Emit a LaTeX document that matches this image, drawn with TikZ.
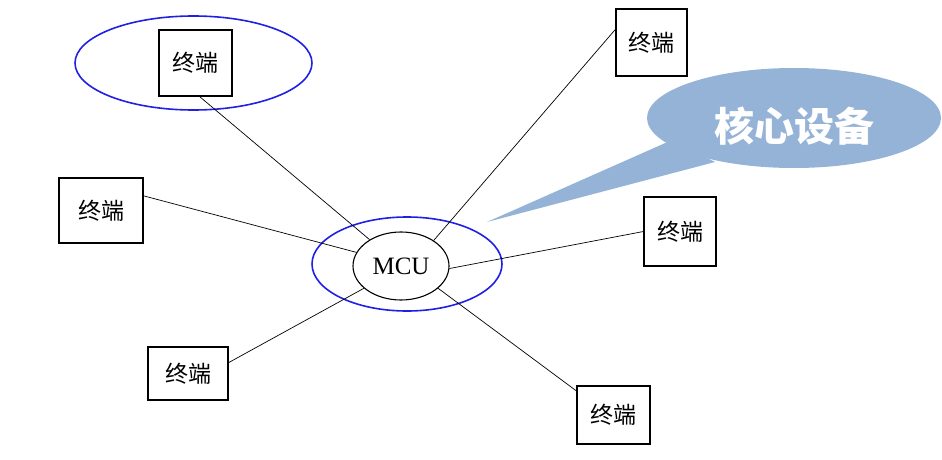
\documentclass[tikz,border=0pt]{standalone}
\usepackage{fontspec}
\setmainfont{Liberation Serif}
\newfontfamily\cjk{Noto Sans CJK SC}
\usetikzlibrary{shapes.geometric}
\definecolor{calloutblue}{HTML}{95B3D7}
\definecolor{ringblue}{HTML}{1F1FE6}
\tikzset{
  term/.style={draw=black, line width=1.2pt, rectangle, inner sep=0pt, font=\cjk\fontsize{23}{23}\selectfont},
  ring/.style={draw=ringblue, line width=1.6pt, ellipse, inner sep=0pt},
  link/.style={draw=black, line width=0.7pt},
}
\begin{document}
\begin{tikzpicture}[x=1pt,y=-1pt]
\useasboundingbox (0,0) rectangle (942,460);
% callout
\fill[calloutblue] (794,118) ellipse [x radius=147, y radius=50];
\fill[calloutblue] (487,222) -- (672,140) -- (715,162) -- cycle;
\node[font=\cjk\bfseries\fontsize{40}{40}\selectfont, text=white] (core) at (794,126) {核心设备};
% rings
\node[ring, minimum width=237pt, minimum height=94pt] (ring1) at (193.5,63) {};
\node[ring, minimum width=190pt, minimum height=94pt] (ring2) at (407,264) {};
% MCU
\node[draw=black, line width=1.1pt, ellipse, minimum width=96pt, minimum height=68pt, inner sep=0pt, font=\fontsize{25}{25}\selectfont] (mcu) at (401,266) {MCU};
% terminals
\node[term, minimum width=73pt, minimum height=66pt] (t1) at (195.5,63) {终端};
\node[term, minimum width=84pt, minimum height=65pt] (t2) at (101,210.5) {终端};
\node[term, minimum width=80pt, minimum height=53pt] (t3) at (188,373.5) {终端};
\node[term, minimum width=71pt, minimum height=67pt] (t4) at (651.5,42.5) {终端};
\node[term, minimum width=72pt, minimum height=69pt] (t5) at (680,231.5) {终端};
\node[term, minimum width=73pt, minimum height=58pt] (t6) at (613.5,415) {终端};
% links
\draw[link] (t1.-83) -- (mcu.140);
\draw[link] (t2.19) -- (mcu.163);
\draw[link] (t3.15) -- (mcu.211);
\draw[link] (t4.160) -- (mcu.38);
\draw[link] (t5.west) -- (mcu.-3);
\draw[link] (t6.147) -- (mcu.-31);
\end{tikzpicture}
\end{document}
